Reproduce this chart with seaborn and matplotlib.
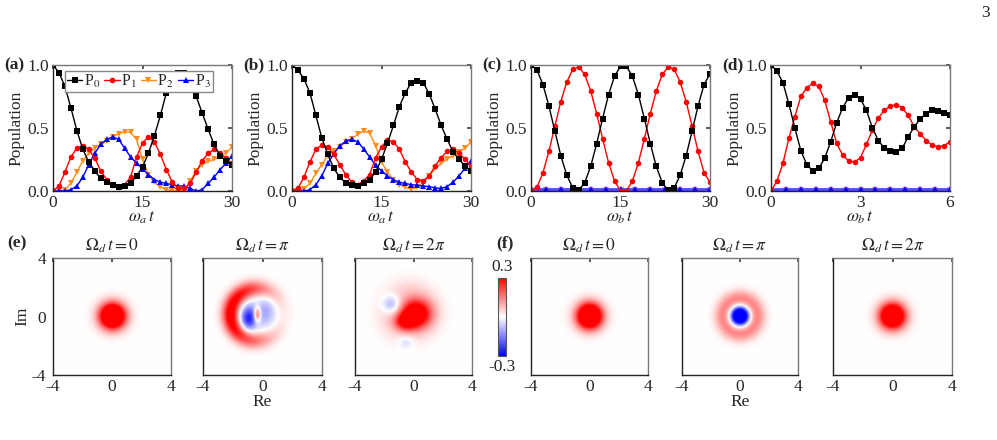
import numpy as np
import matplotlib
matplotlib.use('Agg')
import matplotlib.pyplot as plt
import seaborn as sns

sns.set_theme(style='white')
plt.rcParams['font.family'] = ['Liberation Serif', 'STIXGeneral', 'DejaVu Serif']
plt.rcParams['mathtext.fontset'] = 'stix'
plt.rcParams['axes.unicode_minus'] = False
plt.rcParams['font.size'] = 12

FS = 12.5

# ---------------- population data ----------------
t_ab = np.arange(0, 31, 1.0)
a_P0 = [1.00, 0.94, 0.83, 0.66, 0.48, 0.33, 0.23, 0.16, 0.10, 0.07, 0.045, 0.035, 0.04, 0.06, 0.12, 0.19,
        0.30, 0.44, 0.60, 0.78, 0.89, 0.935, 0.94, 0.90, 0.75, 0.62, 0.49, 0.37, 0.28, 0.24, 0.21]
a_P1 = [0.00, 0.04, 0.15, 0.27, 0.34, 0.36, 0.33, 0.26, 0.16, 0.09, 0.05, 0.035, 0.05, 0.11, 0.27, 0.38,
        0.43, 0.39, 0.29, 0.17, 0.07, 0.02, 0.02, 0.06, 0.15, 0.24, 0.30, 0.33, 0.30, 0.26, 0.22]
a_P2 = [0.00, 0.00, 0.01, 0.06, 0.15, 0.24, 0.30, 0.34, 0.37, 0.395, 0.43, 0.455, 0.47, 0.465, 0.41, 0.25,
        0.13, 0.07, 0.03, 0.01, 0.00, 0.00, 0.01, 0.08, 0.16, 0.21, 0.235, 0.25, 0.27, 0.30, 0.35]
a_P3 = [0.00, 0.00, 0.00, 0.01, 0.04, 0.11, 0.21, 0.30, 0.37, 0.41, 0.43, 0.41, 0.34, 0.27, 0.22, 0.175,
        0.13, 0.09, 0.07, 0.06, 0.05, 0.04, 0.04, 0.02, 0.00, 0.01, 0.06, 0.11, 0.17, 0.22, 0.28]

b_P0 = [1.00, 0.96, 0.89, 0.78, 0.60, 0.42, 0.29, 0.18, 0.11, 0.065, 0.045, 0.04, 0.06, 0.09, 0.15, 0.25,
        0.38, 0.52, 0.67, 0.78, 0.86, 0.875, 0.86, 0.77, 0.65, 0.52, 0.41, 0.31, 0.25, 0.20, 0.16]
b_P1 = [0.00, 0.02, 0.11, 0.23, 0.33, 0.365, 0.35, 0.29, 0.21, 0.13, 0.07, 0.05, 0.08, 0.13, 0.26, 0.35,
        0.405, 0.39, 0.33, 0.23, 0.15, 0.09, 0.08, 0.12, 0.20, 0.265, 0.315, 0.33, 0.30, 0.25, 0.20]
b_P2 = [0.00, 0.00, 0.015, 0.06, 0.14, 0.21, 0.28, 0.32, 0.35, 0.385, 0.415, 0.45, 0.475, 0.46, 0.36, 0.23,
        0.15, 0.09, 0.05, 0.03, 0.015, 0.03, 0.07, 0.12, 0.18, 0.22, 0.255, 0.28, 0.31, 0.34, 0.39]
b_P3 = [0.00, 0.00, 0.00, 0.01, 0.05, 0.12, 0.22, 0.295, 0.36, 0.395, 0.41, 0.39, 0.335, 0.27, 0.205, 0.16,
        0.12, 0.09, 0.07, 0.06, 0.05, 0.045, 0.04, 0.035, 0.025, 0.02, 0.035, 0.07, 0.12, 0.18, 0.24]

c_P0 = [1.00, 0.96, 0.845, 0.675, 0.475, 0.28, 0.125, 0.025, 0.005, 0.065, 0.195, 0.375, 0.575, 0.765, 0.91, 0.99,
        0.99, 0.91, 0.765, 0.575, 0.375, 0.195, 0.065, 0.005, 0.025, 0.125, 0.28, 0.475, 0.675, 0.845, 0.93]
c_P1 = [0.00, 0.03, 0.145, 0.315, 0.515, 0.71, 0.865, 0.965, 0.985, 0.925, 0.795, 0.615, 0.415, 0.225, 0.08, 0.00,
        0.00, 0.08, 0.225, 0.415, 0.615, 0.795, 0.925, 0.985, 0.965, 0.865, 0.71, 0.515, 0.315, 0.145, 0.07]
t_c_low = np.arange(0, 31, 2.5)
c_P2 = [0.008] * 13
c_P3 = [0.014] * 13

t_d = np.arange(0, 6.01, 0.2)
d_P0 = [1.00, 0.95, 0.86, 0.69, 0.50, 0.32, 0.21, 0.16, 0.18, 0.26, 0.39, 0.54, 0.66, 0.74, 0.765, 0.73,
        0.64, 0.50, 0.40, 0.34, 0.315, 0.31, 0.34, 0.43, 0.51, 0.57, 0.615, 0.64, 0.635, 0.62, 0.60]
d_P1 = [0.00, 0.08, 0.22, 0.42, 0.59, 0.75, 0.82, 0.855, 0.83, 0.72, 0.55, 0.38, 0.285, 0.24, 0.23, 0.265,
        0.37, 0.485, 0.58, 0.64, 0.675, 0.685, 0.66, 0.60, 0.51, 0.455, 0.40, 0.365, 0.35, 0.36, 0.39]
t_d_low = np.arange(0, 6.01, 0.5)
d_P2 = [0.008] * 13
d_P3 = [0.014] * 13

labels = ['P$_0$', 'P$_1$', 'P$_2$', 'P$_3$']
colors = ['black', '#ff0000', '#ff8c1a', '#0000ff']
markers = ['s', 'o', 'v', '^']

# ---------------- Wigner-function components ----------------
# Gaussian blobs: centre x, centre y, width x, width y, amplitude
e0_cx, e0_cy, e0_sx, e0_sy, e0_amp = [0.0], [0.0], [0.6], [0.6], [0.64]
e1_cx, e1_cy, e1_sx, e1_sy, e1_amp = [-0.95, 0.2, -0.35], [-0.15, 0.3, 0.1], [0.4, 0.5, 0.16], [0.6, 0.75, 0.35], [-0.26, -0.10, 0.26]
e2_cx, e2_cy, e2_sx, e2_sy, e2_amp = [0.15, -0.6, -1.5, -0.5], [0.15, -0.4, 0.8, -1.75], [0.75, 0.5, 0.45, 0.38], [0.7, 0.4, 0.45, 0.32], [0.45, 0.22, -0.14, -0.06]
f0_cx, f0_cy, f0_sx, f0_sy, f0_amp = [0.0], [0.0], [0.6], [0.6], [0.64]
f1_cx, f1_cy, f1_sx, f1_sy, f1_amp = [0.0], [0.0], [0.4], [0.4], [-0.65]
f2_cx, f2_cy, f2_sx, f2_sy, f2_amp = [0.0], [0.0], [0.6], [0.6], [0.60]
# Rings: centre x, centre y, radius, width, amplitude, one-sidedness, direction (deg)
e1_ring = dict(cx=[-0.4], cy=[0.1], R=[1.75], w=[0.4], amp=[0.34], bias=[0.85], phi0=[175])
e2_ring = dict(cx=[-0.2], cy=[0.2], R=[1.6], w=[0.6], amp=[0.05], bias=[0.5], phi0=[150])
f1_ring = dict(cx=[0.0], cy=[0.0], R=[1.15], w=[0.42], amp=[0.15], bias=[0.0], phi0=[0])

grid = np.linspace(-4, 4, 241)
X, Y = np.meshgrid(grid, grid)


def blobs(cx, cy, sx, sy, amp):
    F = np.zeros_like(X)
    for a, b, c, d, e in zip(cx, cy, sx, sy, amp):
        F += e * np.exp(-((X - a) ** 2 / (2 * c ** 2) + (Y - b) ** 2 / (2 * d ** 2)))
    return F


def rings(cx, cy, R, w, amp, bias, phi0):
    F = np.zeros_like(X)
    for a, b, r0, ww, am, bi, p0 in zip(cx, cy, R, w, amp, bias, phi0):
        dx, dy = X - a, Y - b
        rho = np.hypot(dx, dy)
        phi = np.arctan2(dy, dx)
        F += am * np.exp(-(rho - r0) ** 2 / (2 * ww ** 2)) * (1 + bi * np.cos(phi - np.deg2rad(p0))) / (1 + bi)
    return F


maps = [
    blobs(e0_cx, e0_cy, e0_sx, e0_sy, e0_amp),
    blobs(e1_cx, e1_cy, e1_sx, e1_sy, e1_amp) + rings(**e1_ring),
    blobs(e2_cx, e2_cy, e2_sx, e2_sy, e2_amp) + rings(**e2_ring),
    blobs(f0_cx, f0_cy, f0_sx, f0_sy, f0_amp),
    blobs(f1_cx, f1_cy, f1_sx, f1_sy, f1_amp) + rings(**f1_ring),
    blobs(f2_cx, f2_cy, f2_sx, f2_sy, f2_amp),
]
map_titles = [r'$\Omega_d\,t = 0$', r'$\Omega_d\,t = \pi$', r'$\Omega_d\,t = 2\pi$'] * 2

# ---------------- figure ----------------
W, H = 997, 440
fig = plt.figure(figsize=(W / 100, H / 100), dpi=100)


def px_axes(x0, y0, x1, y1):
    return fig.add_axes([x0 / W, 1 - y1 / H, (x1 - x0) / W, (y1 - y0) / H])


def style_frame(ax):
    for s in ['left', 'bottom']:
        ax.spines[s].set_color('#222222')
        ax.spines[s].set_linewidth(1.0)
    for s in ['top', 'right']:
        ax.spines[s].set_color('#777777')
        ax.spines[s].set_linewidth(1.0)


top_x = [53, 292, 531, 771]
top_panels = [
    ('(a)', [(t_ab, a_P0), (t_ab, a_P1), (t_ab, a_P2), (t_ab, a_P3)], 30, [0, 15, 30], r'$\omega_a\,t$'),
    ('(b)', [(t_ab, b_P0), (t_ab, b_P1), (t_ab, b_P2), (t_ab, b_P3)], 30, [0, 15, 30], r'$\omega_a\,t$'),
    ('(c)', [(t_ab, c_P0), (t_ab, c_P1), (t_c_low, c_P2), (t_c_low, c_P3)], 30, [0, 15, 30], r'$\omega_b\,t$'),
    ('(d)', [(t_d, d_P0), (t_d, d_P1), (t_d_low, d_P2), (t_d_low, d_P3)], 6, [0, 3, 6], r'$\omega_b\,t$'),
]

for i, (lab, series, xmax, xt, xl) in enumerate(top_panels):
    x0 = top_x[i]
    ax = px_axes(x0, 65, x0 + 179, 191)
    for k in [2, 3, 1, 0]:
        tt, vv = series[k]
        lw = 1.0
        col = colors[k]
        if i >= 2 and k == 3:
            lw = 2.0
            col = '#4a4aff'
        sns.lineplot(x=tt, y=vv, ax=ax, color=col, marker=markers[k], markersize=4.0,
                     markeredgewidth=0, markerfacecolor=colors[k], linewidth=lw,
                     label=labels[k], legend=False)
    ax.set_xlim(0, xmax)
    ax.set_ylim(0, 1.0)
    ax.set_xticks(xt)
    ax.set_xticklabels([str(v) for v in xt])
    ax.set_yticks([0, 0.5, 1.0])
    ax.set_yticklabels(['0.0', '0.5', '1.0'])
    ax.tick_params(direction='in', length=3, top=True, right=True, labelsize=FS, pad=3, color='#444444')
    ax.set_xlabel(xl, fontsize=FS, labelpad=-1)
    ax.set_ylabel('Population', fontsize=FS, labelpad=2)
    style_frame(ax)
    fig.text((x0 - 49) / W, 1 - 65 / H, lab, fontsize=FS, fontweight='bold', ha='left', va='center')
    if i == 0:
        h, l = ax.get_legend_handles_labels()
        idx = [l.index(s) for s in labels]
        ax.legend([h[j] for j in idx], [l[j] for j in idx], loc='upper center', bbox_to_anchor=(0.48, 0.955),
                  ncol=4, handlelength=0.95, handletextpad=0.1, columnspacing=0.25, borderpad=0.12,
                  borderaxespad=0.0, frameon=True, fancybox=False, edgecolor='#888888', framealpha=1,
                  fontsize=11.5)

img_x = [(53, 171), (203, 322), (355, 472), (531, 648), (682, 798), (833, 952)]
im = None
for j, (x0, x1) in enumerate(img_x):
    ax = px_axes(x0, 258, x1, 375)
    im = ax.imshow(maps[j], extent=[-4, 4, -4, 4], origin='lower', cmap='bwr', vmin=-0.3, vmax=0.3,
                   interpolation='bilinear', aspect='auto')
    ax.set_xlim(-4, 4)
    ax.set_ylim(-4, 4)
    ax.set_xticks([-4, 0, 4])
    ax.set_xticklabels(['-4', '0', '4'])
    ax.set_yticks([-4, 0, 4])
    if j == 0:
        ax.set_yticklabels(['-4', '0', '4'])
        ax.set_ylabel('Im', fontsize=FS, labelpad=1)
    else:
        ax.set_yticklabels([])
    ax.tick_params(axis='x', direction='in', length=3, top=True, labelsize=FS, pad=3, color='#444444')
    ax.tick_params(axis='y', direction='out', length=3, labelsize=FS, pad=2, color='#444444')
    if j in (1, 4):
        ax.set_xlabel('Re', fontsize=FS, labelpad=-1)
    ax.set_title(map_titles[j], fontsize=FS, pad=5)
    style_frame(ax)

fig.text(7 / W, 1 - 243 / H, '(e)', fontsize=FS, fontweight='bold', ha='left', va='center')
fig.text(496 / W, 1 - 243 / H, '(f)', fontsize=FS, fontweight='bold', ha='left', va='center')

cax = px_axes(498, 278, 506, 356)
cb = fig.colorbar(im, cax=cax, ticks=[])
cb.outline.set_edgecolor('#555555')
cb.outline.set_linewidth(0.8)
fig.text(502 / W, 1 - 267 / H, '0.3', fontsize=FS, ha='center', va='center')
fig.text(502 / W, 1 - 367 / H, '-0.3', fontsize=FS, ha='center', va='center')

fig.text(985 / W, 1 - 13 / H, '3', fontsize=FS, ha='center', va='center')

fig.savefig('out.png', dpi=100)
